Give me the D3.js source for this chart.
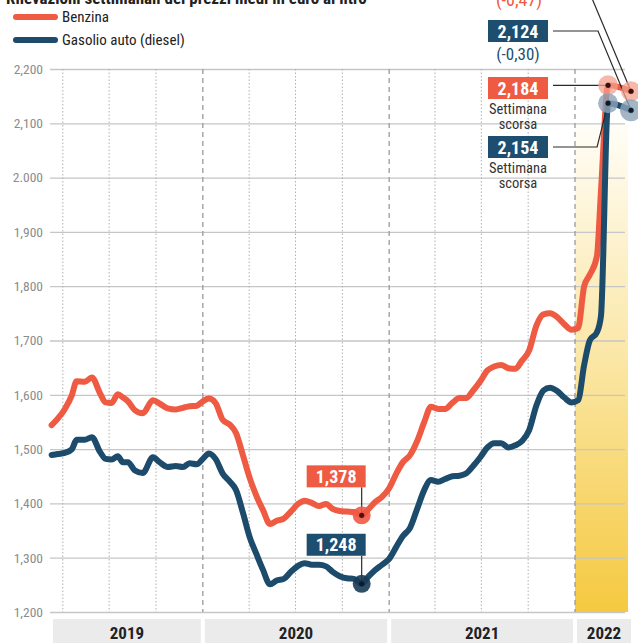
<!DOCTYPE html>
<html>
<head>
<meta charset="utf-8">
<script src="https://cdn.jsdelivr.net/npm/d3@7"></script>
<style>
    body { margin: 0; background: #fff; }
    svg text { font-family: "Liberation Sans Narrow", "Roboto Condensed", Roboto, sans-serif; }
</style>
</head>
<body>
<svg id="chart" width="638" height="643"></svg>
<script>
// Weekly average prices (euro per litre)
var dates = [
    "2019-03-10","2019-03-22","2019-04-05","2019-04-19","2019-04-28","2019-05-14","2019-05-28","2019-06-13","2019-06-24","2019-07-06","2019-07-18","2019-07-28","2019-08-07","2019-08-20","2019-09-05","2019-09-25","2019-10-08","2019-10-24","2019-11-09","2019-11-23","2019-12-06","2019-12-20",
    "2020-01-01","2020-01-13","2020-01-26","2020-02-09","2020-02-23","2020-03-06","2020-03-20","2020-04-02","2020-04-16","2020-04-28","2020-05-12","2020-05-25","2020-06-08","2020-06-22","2020-07-06","2020-07-19","2020-08-02","2020-08-16","2020-08-30","2020-09-12","2020-09-26","2020-10-10","2020-10-24","2020-11-08","2020-11-20","2020-12-04","2020-12-18",
    "2021-01-01","2021-01-15","2021-01-28","2021-02-11","2021-02-25","2021-03-11","2021-03-24","2021-04-07","2021-04-21","2021-05-05","2021-05-19","2021-06-01","2021-06-15","2021-06-29","2021-07-13","2021-07-26","2021-08-09","2021-08-23","2021-09-06","2021-09-19","2021-10-03","2021-10-17","2021-10-31","2021-11-13","2021-11-27","2021-12-11","2021-12-25",
    "2022-01-07","2022-01-19","2022-01-30","2022-02-13","2022-02-21","2022-03-07","2022-04-21"
];
var benzina = [
    1.544,1.556,1.574,1.600,1.625,1.624,1.632,1.603,1.586,1.585,1.601,1.595,1.588,1.572,1.566,1.590,1.584,1.575,1.573,1.576,1.579,1.580,
    1.588,1.593,1.585,1.554,1.545,1.530,1.488,1.447,1.412,1.388,1.362,1.368,1.372,1.385,1.399,1.405,1.401,1.395,1.399,1.390,1.386,1.385,1.384,1.378,1.388,1.402,1.412,
    1.428,1.455,1.476,1.489,1.515,1.550,1.578,1.574,1.574,1.585,1.594,1.594,1.608,1.625,1.645,1.652,1.655,1.649,1.648,1.663,1.682,1.727,1.748,1.750,1.743,1.730,1.720,
    1.723,1.800,1.821,1.855,1.975,2.170,2.159
];
var gasolio = [
    1.489,1.491,1.493,1.500,1.517,1.517,1.522,1.495,1.482,1.481,1.487,1.476,1.476,1.461,1.456,1.485,1.476,1.467,1.469,1.467,1.474,1.472,
    1.482,1.492,1.482,1.455,1.440,1.425,1.382,1.338,1.305,1.278,1.251,1.258,1.261,1.274,1.285,1.290,1.287,1.287,1.284,1.274,1.266,1.262,1.261,1.252,1.264,1.277,1.287,
    1.298,1.320,1.340,1.355,1.390,1.425,1.443,1.440,1.445,1.450,1.451,1.455,1.469,1.485,1.503,1.511,1.511,1.503,1.507,1.515,1.535,1.580,1.608,1.613,1.607,1.595,1.586,
    1.590,1.655,1.700,1.715,1.745,2.137,2.124
];

var yTicks = [1.2, 1.3, 1.4, 1.5, 1.6, 1.7, 1.8, 1.9, 2.0, 2.1, 2.2];
var yTickLabels = ["1,200","1,300","1,400","1,500","1,600","1,700","1,800","1,900","2.000","2,100","2,200"];
var years = ["2019", "2020", "2021", "2022"];
var seriesNames = ["Benzina", "Gasolio auto (diesel)"];

// annotations
var title = "Rilevazioni settimanali dei prezzi medi in euro al litro";
var lowDate = "2020-11-08";
var lowLabels = ["1,378", "1,248"];
var lastWeekLabels = ["2,184", "2,154"];
var lastWeekText = ["Settimana", "scorsa"];
var currentDiesel = "2,124";
var changeDiesel = "(-0,30)";
var changeBenzina = "(-0,47)";

var RED = "#ee5a42", BLUE = "#1c4b6b", BOXBLUE = "#1d4e70";

var parse = d3.timeParse("%Y-%m-%d");
var data = dates.map(function(d, i){
    return {date: parse(d), benzina: benzina[i], gasolio: gasolio[i]};
});

var svg = d3.select("#chart");
var left = 50, right = 625;

var x = d3.scaleTime()
    .domain([parse("2019-01-01"), parse("2022-01-01")])
    .range([17, 575]);
var y = d3.scaleLinear().domain([1.2, 2.2]).range([612, 69]);

// yellow highlight for 2022
var grad = svg.append("defs").append("linearGradient")
    .attr("id", "hl").attr("x1", 0).attr("y1", 0).attr("x2", 0).attr("y2", 1);
grad.append("stop").attr("offset", "0%").attr("stop-color", "#fffdf6");
grad.append("stop").attr("offset", "45%").attr("stop-color", "#fbe8ab");
grad.append("stop").attr("offset", "100%").attr("stop-color", "#f5c940");
var x2022 = x(parse("2022-01-01"));
svg.append("rect")
    .attr("x", x2022).attr("y", 125)
    .attr("width", 628 - x2022).attr("height", y(1.2) - 125)
    .attr("fill", "url(#hl)");

// horizontal grid + y labels
var yAxis = d3.axisLeft(y)
    .tickValues(yTicks)
    .tickFormat(function(d, i){ return yTickLabels[i]; })
    .tickSize(-(right - left))
    .tickPadding(7);
var gy = svg.append("g").attr("transform", "translate(" + left + ",0)").call(yAxis);
gy.select(".domain").remove();
gy.selectAll("line").attr("stroke", "#c6c6c6").attr("stroke-width", 1.3);
gy.selectAll("text").attr("fill", "#8c8c8c").attr("font-size", 13.5);

// quarter (dotted) and year (dashed) lines
var quarters = d3.timeMonth.every(3).range(parse("2019-04-01"), parse("2022-01-02"));
svg.selectAll(".vline").data(quarters).enter().append("line")
    .attr("class", "vline")
    .attr("x1", function(d){ return x(d); }).attr("x2", function(d){ return x(d); })
    .attr("y1", y(2.2)).attr("y2", y(1.2))
    .attr("stroke", function(d){ return d.getMonth() === 0 ? "#9a9a9a" : "#b0b0b0"; })
    .attr("stroke-width", function(d){ return d.getMonth() === 0 ? 1.3 : 1; })
    .attr("stroke-dasharray", function(d){ return d.getMonth() === 0 ? "5,4" : "1.5,2"; });

// year bands at the bottom
var yearStarts = years.map(function(yr){ return parse(yr + "-01-01"); });
function bandX0(i){ return Math.max(x(yearStarts[i]), 51) + 2; }
function bandX1(i){ return i < years.length - 1 ? x(yearStarts[i + 1]) - 2 : 631; }
var band = svg.selectAll(".band").data(years).enter().append("g").attr("class", "band");
band.append("rect")
    .attr("x", function(d, i){ return bandX0(i); })
    .attr("width", function(d, i){ return bandX1(i) - bandX0(i); })
    .attr("y", 619).attr("height", 30)
    .attr("fill", "#ebebeb");
band.append("text")
    .attr("x", function(d, i){ return (bandX0(i) + bandX1(i)) / 2; })
    .attr("y", 639)
    .attr("text-anchor", "middle")
    .attr("font-size", 17).attr("font-weight", "bold").attr("fill", "#222")
    .text(function(d){ return d; });

// lines
function lineFor(key){
    return d3.line()
        .x(function(d){ return x(d.date); })
        .y(function(d){ return y(d[key]); })
        .curve(d3.curveMonotoneX);
}
svg.append("path").datum(data)
    .attr("d", lineFor("benzina"))
    .attr("fill", "none").attr("stroke", RED).attr("stroke-width", 6)
    .attr("stroke-linejoin", "round").attr("stroke-linecap", "round");
svg.append("path").datum(data)
    .attr("d", lineFor("gasolio"))
    .attr("fill", "none").attr("stroke", BLUE).attr("stroke-width", 6)
    .attr("stroke-linejoin", "round").attr("stroke-linecap", "round");

// legend
var legend = svg.append("g");
seriesNames.forEach(function(name, i){
    legend.append("line")
        .attr("x1", 16).attr("x2", 55).attr("y1", 17 + i * 23).attr("y2", 17 + i * 23)
        .attr("stroke", i === 0 ? RED : BLUE).attr("stroke-width", 6).attr("stroke-linecap", "round");
    legend.append("text")
        .attr("x", 62).attr("y", 22 + i * 23)
        .attr("font-size", 15).attr("fill", "#222")
        .text(name);
});

// cut-off title at the very top
svg.append("text").attr("x", 6).attr("y", 4)
    .attr("font-size", 17).attr("font-weight", "bold").attr("fill", "#222")
    .text(title);

// helpers for annotation marks
function dot(px, py, r, fill, opacity, core){
    svg.append("circle").attr("cx", px).attr("cy", py).attr("r", r)
        .attr("fill", fill).attr("fill-opacity", opacity);
    svg.append("circle").attr("cx", px).attr("cy", py).attr("r", 2.6).attr("fill", core);
}
function box(bx, by, w, fill, label){
    svg.append("rect").attr("x", bx).attr("y", by).attr("width", w).attr("height", 22).attr("fill", fill);
    svg.append("text").attr("x", bx + w / 2).attr("y", by + 17.5)
        .attr("text-anchor", "middle").attr("font-size", 18).attr("font-weight", "bold")
        .attr("fill", "#fff").text(label);
}
function leader(points){
    svg.append("path").attr("d", d3.line()(points))
        .attr("fill", "none").attr("stroke", "#2a2a2a").attr("stroke-width", 1.2);
}

// November 2020 lows
var li = dates.indexOf(lowDate);
var lx = x(data[li].date);
["benzina", "gasolio"].forEach(function(key, k){
    var py = y(data[li][key]);
    var by = py - 50;
    leader([[lx, by + 22], [lx, py]]);
    box(lx - 55, by, 59, k === 0 ? RED : BOXBLUE, lowLabels[k]);
    dot(lx, py, 9, k === 0 ? "#f05a45" : "#1a3c56", 0.9, k === 0 ? "#4a1510" : "#0d1c28");
});

// last week peak and latest values
var pi = d3.maxIndex(data, function(d){ return d.benzina; });
var n = data.length - 1;
var pbx = x(data[pi].date), pby = y(data[pi].benzina);
var pgx = x(data[pi].date), pgy = y(data[pi].gasolio);
var cbx = x(data[n].date), cby = y(data[n].benzina);
var cgx = x(data[n].date), cgy = y(data[n].gasolio);

var boxX = 488, boxW = 60;

// benzina current (its box is cut off above the picture)
leader([[cbx, cby], [cbx - 42, cby - 100]]);
svg.append("text").attr("x", boxX + boxW / 2 + 1).attr("y", 6)
    .attr("text-anchor", "middle").attr("font-size", 18).attr("fill", RED)
    .text(changeBenzina);

// diesel current
box(boxX, 20, boxW, BOXBLUE, currentDiesel);
svg.append("text").attr("x", boxX + boxW / 2).attr("y", 60)
    .attr("text-anchor", "middle").attr("font-size", 17).attr("fill", BOXBLUE)
    .text(changeDiesel);
leader([[boxX + boxW + 5, 31], [598, 31], [cgx, cgy]]);

// benzina last week
box(boxX, 77, boxW, RED, lastWeekLabels[0]);
leader([[boxX + boxW + 5, pby], [pbx, pby]]);
// diesel last week
box(boxX, 136, boxW, BOXBLUE, lastWeekLabels[1]);
leader([[boxX + boxW + 5, 147], [pgx - 11, 147], [pgx, pgy]]);

[77, 136].forEach(function(top){
    lastWeekText.forEach(function(t, j){
        svg.append("text").attr("x", boxX + boxW / 2).attr("y", top + 37 + j * 15)
            .attr("text-anchor", "middle").attr("font-size", 14.5).attr("fill", "#333")
            .text(t);
    });
});

dot(pbx, pby, 10, "#f2a08e", 0.75, "#3a0f0a");
dot(cbx, cby, 10, "#f2a08e", 0.75, "#3a0f0a");
dot(pgx, pgy, 10, "#8da2b8", 0.8, "#0d1c28");
dot(cgx, cgy, 11, "#8da2b8", 0.8, "#0d1c28");
</script>
</body>
</html>
